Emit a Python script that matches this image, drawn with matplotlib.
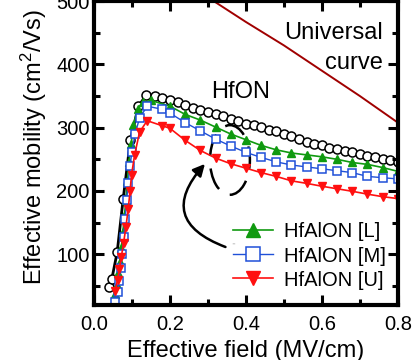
import matplotlib.pyplot as plt
from matplotlib.patches import Ellipse, Arc, FancyArrowPatch
from matplotlib.ticker import MultipleLocator

plt.rcParams['font.family'] = ['Liberation Sans', 'DejaVu Sans']
plt.rcParams['mathtext.default'] = 'regular'

# HfON (open circles, black line)
hfon_x = [0.040, 0.047, 0.061, 0.077, 0.096, 0.117, 0.137, 0.16, 0.18, 0.20, 0.22,
          0.24, 0.26, 0.28, 0.30, 0.32, 0.34, 0.36, 0.38, 0.40, 0.42, 0.44, 0.46,
          0.48, 0.50, 0.52, 0.54, 0.56, 0.58, 0.60, 0.62, 0.64, 0.66, 0.68, 0.70,
          0.72, 0.74, 0.76, 0.78, 0.80]
hfon_y = [49, 61, 103, 188, 281, 334, 351, 350, 347, 344, 340,
          336, 331, 328, 325, 321, 318, 314, 310, 306, 304, 301, 297,
          294, 290, 287, 282, 278, 275, 272, 268, 266, 263, 261, 258,
          256, 253, 251, 249, 246]

# HfAlON [L]
l_x = [0.056, 0.060, 0.064, 0.068, 0.072, 0.076, 0.080, 0.084, 0.088, 0.092,
       0.098, 0.104, 0.115, 0.13, 0.15, 0.20, 0.24, 0.28, 0.32, 0.36, 0.40,
       0.44, 0.48, 0.52, 0.56, 0.60, 0.64, 0.68, 0.72, 0.76, 0.80]
l_y = [38, 52, 70, 88, 110, 135, 160, 185, 215, 245,
       275, 305, 330, 340, 343, 334, 321, 312, 301, 290, 281,
       272, 265, 260, 257, 254, 250, 245, 242, 237, 231]

# HfAlON [M]
m_x = [0.055, 0.062, 0.066, 0.070, 0.074, 0.078, 0.082, 0.086, 0.090, 0.095,
       0.100, 0.108, 0.12, 0.14, 0.18, 0.20, 0.24, 0.28, 0.32, 0.36, 0.40,
       0.44, 0.48, 0.52, 0.56, 0.60, 0.64, 0.68, 0.72, 0.76, 0.80]
m_y = [24, 40, 58, 78, 100, 128, 155, 185, 212, 240,
       262, 290, 315, 334, 329, 323, 308, 295, 282, 271, 261,
       253, 246, 241, 238, 235, 232, 229, 223, 221, 219]

# HfAlON [U]
u_x = [0.056, 0.062, 0.067, 0.072, 0.078, 0.084, 0.090, 0.095, 0.099, 0.107,
       0.12, 0.14, 0.18, 0.20, 0.24, 0.28, 0.32, 0.36, 0.40, 0.44, 0.48,
       0.52, 0.56, 0.60, 0.64, 0.68, 0.72, 0.76, 0.80]
u_y = [42, 60, 77, 96, 118, 143, 171, 200, 226, 257,
       293, 311, 303, 299, 280, 264, 252, 243, 236, 229, 223,
       216, 212, 207.5, 203.5, 199.5, 195, 191, 188]

# universal curve
univ_x = [0.31, 0.40, 0.50, 0.60, 0.70, 0.80]
univ_y = [502, 467, 430, 390, 350, 308]

fig = plt.figure(figsize=(4.14, 3.6), dpi=100)
ax = fig.add_axes([0.227, 0.153, 0.734, 0.844])

ax.plot(univ_x, univ_y, color='#a00000', lw=1.4)

ax.plot(l_x, l_y, color='#109a10', lw=1.2, marker='^', ms=6,
        mfc='#109a10', mec='#109a10', label='HfAlON [L]')
ax.plot(m_x, m_y, color='#1f50d8', lw=1.0, marker='s', ms=5.5,
        mfc='white', mec='#1f50d8', mew=1.1, label='HfAlON [M]')
ax.plot(u_x, u_y, color='#ff1010', lw=1.2, marker='v', ms=6,
        mfc='#ff1010', mec='#ff1010', label='HfAlON [U]')
ax.plot(hfon_x, hfon_y, color='black', lw=2.0, marker='o', ms=6.5,
        mfc='white', mec='black', mew=1.1, zorder=1.5)

# dashed ellipse and curved arrow
ax.add_patch(Ellipse((0.358, 249), 0.105, 110, fill=False, ec='black',
                     lw=1.8, ls=(0, (9, 5))))
ax.add_patch(Arc((0.442, 116), 0.147, 101, theta1=98, theta2=124,
                 ec='black', lw=1.8))
ax.add_patch(FancyArrowPatch((0.353, 110), (0.297, 246),
                             connectionstyle='arc3,rad=-0.75',
                             arrowstyle='-|>,head_length=0.5,head_width=0.25',
                             mutation_scale=14, color='black', lw=1.8))

ax.text(0.387, 357, 'HfON', fontsize=17, ha='center', va='center')
ax.text(0.761, 450, 'Universal', fontsize=17, ha='right', va='center')
ax.text(0.761, 402, 'curve', fontsize=17, ha='right', va='center')

leg = ax.legend(loc='center left', bbox_to_anchor=(0.457, 0.161), frameon=False,
                fontsize=14.5, borderpad=0, borderaxespad=0, handlelength=2.0,
                handletextpad=0.55, labelspacing=0.25)
for h in leg.legend_handles:
    h.set_markersize(9.5)

ax.set_xlim(0, 0.8)
ax.set_ylim(20, 500)
ax.xaxis.set_major_locator(MultipleLocator(0.2))
ax.xaxis.set_minor_locator(MultipleLocator(0.1))
ax.yaxis.set_major_locator(MultipleLocator(100))
ax.yaxis.set_minor_locator(MultipleLocator(50))
ax.set_xticks([0.0, 0.2, 0.4, 0.6, 0.8])
ax.set_xticklabels(['0.0', '0.2', '0.4', '0.6', '0.8'])
ax.set_yticks([100, 200, 300, 400, 500])

ax.tick_params(which='both', direction='in', top=True, right=True,
               width=2.2, labelsize=14.5)
ax.tick_params(axis='y', which='both', pad=3)
ax.tick_params(axis='x', which='both', pad=7)
ax.tick_params(which='major', length=7)
ax.tick_params(which='minor', length=4)
for s in ax.spines.values():
    s.set_linewidth(3)

ax.set_xlabel('Effective field (MV/cm)', fontsize=17)
ax.set_ylabel('Effective mobility (cm$^{2}$/Vs)', fontsize=17)
ax.xaxis.set_label_coords(0.5, -0.115)
ax.yaxis.set_label_coords(-0.148, 0.52)

fig.savefig('out.png', dpi=100)
